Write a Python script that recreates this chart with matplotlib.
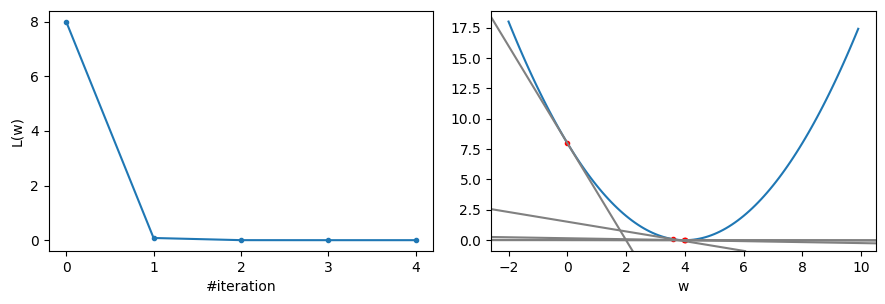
import numpy as np
import matplotlib.pyplot as plt

# gradient descent iterates on L(w) = 0.5*(w-4)^2
iterations = [0, 1, 2, 3, 4]
w_vals = [0.0, 3.6, 3.96, 3.996, 3.9996]
L_vals = [8.0, 0.08, 0.0008, 0.000008, 0.00000008]
grads = [-4.0, -0.4, -0.04, -0.004, -0.0004]

w_grid = np.arange(-2, 10, 0.1)
L_grid = 0.5 * (w_grid - 4) ** 2

fig, (ax1, ax2) = plt.subplots(1, 2, figsize=(8.85, 3.04), dpi=100)
fig.subplots_adjust(left=0.055, right=0.9895, bottom=0.174, top=0.965, wspace=0.15)

ax1.plot(iterations, L_vals, '.-')
ax1.set_xticks(iterations)
ax1.set_xlabel("#iteration")
ax1.set_ylabel("L(w)")

ax2.plot(w_grid, L_grid)
ax2.plot(w_vals, L_vals, '.', color='red')
for w, l, g in zip(w_vals, L_vals, grads):
    ax2.axline((w, l), slope=g, color='gray')
ax2.set_xlabel("w")

plt.savefig("out.png")
